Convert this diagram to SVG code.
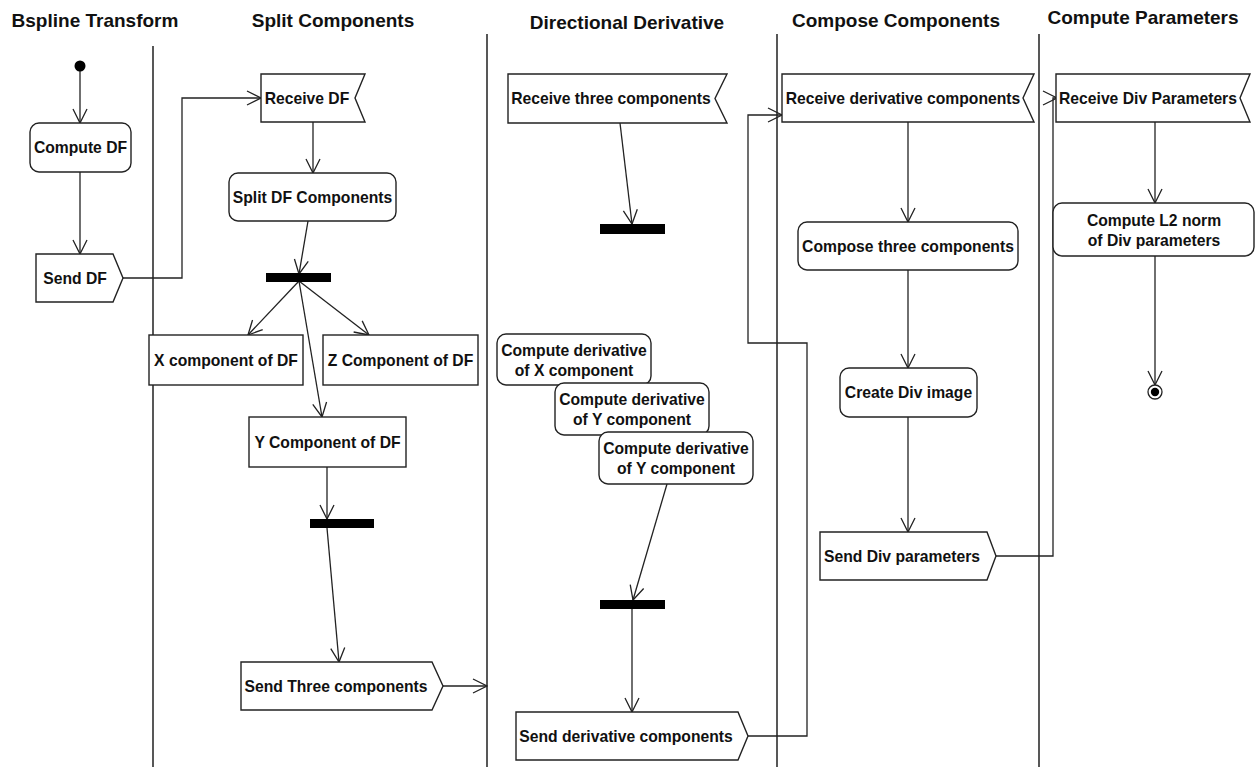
<svg xmlns="http://www.w3.org/2000/svg" width="1255" height="767" viewBox="0 0 1255 767">
  <style>
    .lane { stroke: #111; stroke-width: 1.4; fill: none; }
    .title { font-family: "Liberation Sans", Arial, sans-serif; font-weight: bold; font-size: 19px; fill: #111; text-anchor: middle; }
    .box { fill: #fff; stroke: #222; stroke-width: 1.4; }
    .lbl { font-family: "Liberation Sans", Arial, sans-serif; font-weight: bold; font-size: 15.7px; fill: #111; text-anchor: middle; }
    .edge { fill: none; stroke: #222; stroke-width: 1.3; marker-end: url(#open); }
    .plain { fill: none; stroke: #222; stroke-width: 1.3; }
    .bar { fill: #000; }
  </style>
  <defs>
    <marker id="open" viewBox="0 0 16 16" refX="15" refY="8" markerWidth="16" markerHeight="16" markerUnits="userSpaceOnUse" orient="auto">
      <path d="M1,1 L15,8 L1,15" fill="none" stroke="#222" stroke-width="1.3"/>
    </marker>
  </defs>
  <rect width="1255" height="767" fill="#fff"/>

  <!-- swimlane titles and separators -->
  <g id="lanes">
    <text class="title" x="95" y="27">Bspline Transform</text>
    <text class="title" x="333" y="27">Split Components</text>
    <text class="title" x="627" y="29">Directional Derivative</text>
    <text class="title" x="896" y="27">Compose Components</text>
    <text class="title" x="1143" y="24">Compute Parameters</text>
    <line class="lane" x1="153" y1="46" x2="153" y2="767"/>
    <line class="lane" x1="487" y1="34" x2="487" y2="767"/>
    <line class="lane" x1="777" y1="34" x2="777" y2="767"/>
    <line class="lane" x1="1039" y1="34" x2="1039" y2="767"/>
  </g>

  <!-- connectors -->
  <g id="connectors">
    <line class="edge" x1="80" y1="66" x2="80" y2="123"/>
    <line class="edge" x1="80" y1="172" x2="80" y2="254"/>
    <polyline class="edge" points="123,278 182,278 182,98 261,98"/>
    <line class="edge" x1="313" y1="122" x2="313" y2="173"/>
    <line class="edge" x1="308" y1="221" x2="299" y2="274"/>
    <line class="edge" x1="299" y1="281" x2="248" y2="335"/>
    <line class="edge" x1="299" y1="281" x2="369" y2="335"/>
    <line class="edge" x1="299" y1="281" x2="322" y2="417"/>
    <line class="edge" x1="327" y1="467" x2="327" y2="519"/>
    <line class="edge" x1="327" y1="528" x2="339" y2="662"/>
    <line class="edge" x1="443" y1="686" x2="487" y2="686"/>
    <line class="edge" x1="620" y1="123" x2="632" y2="224"/>
    <line class="edge" x1="667" y1="484" x2="633" y2="600"/>
    <line class="edge" x1="632" y1="609" x2="632" y2="712"/>
    <polyline class="edge" points="748,736 807,736 807,343 748,343 748,115 782,115"/>
    <line class="edge" x1="908" y1="122" x2="908" y2="222"/>
    <line class="edge" x1="908" y1="270" x2="908" y2="368"/>
    <line class="edge" x1="908" y1="417" x2="908" y2="532"/>
    <polyline class="edge" points="996,556 1053,556 1053,98 1057,98"/>
    <line class="edge" x1="1155" y1="122" x2="1155" y2="203"/>
    <line class="edge" x1="1155" y1="256" x2="1155" y2="385"/>
  </g>

  <!-- Bspline Transform -->
  <g id="start"><circle cx="80" cy="66" r="5.5" fill="#000"/></g>
  <g id="compute-df">
    <rect class="box" x="30" y="123" width="101" height="49" rx="9"/>
    <text class="lbl" x="80.5" y="153">Compute DF</text>
  </g>
  <g id="send-df">
    <path class="box" d="M36,254 L113,254 L123,278 L113,302 L36,302 Z"/>
    <text class="lbl" x="75" y="284">Send DF</text>
  </g>

  <!-- Split Components -->
  <g id="receive-df">
    <path class="box" d="M261,74 L365,74 L355,98 L365,122 L261,122 Z"/>
    <text class="lbl" x="307" y="104">Receive DF</text>
  </g>
  <g id="split-df">
    <rect class="box" x="229" y="173" width="167" height="48" rx="9"/>
    <text class="lbl" x="312.5" y="203">Split DF Components</text>
  </g>
  <g id="fork-split"><rect class="bar" x="266" y="273" width="65" height="9"/></g>
  <g id="x-component">
    <rect class="box" x="149" y="335" width="154" height="50"/>
    <text class="lbl" x="226" y="365.5">X component of DF</text>
  </g>
  <g id="z-component">
    <rect class="box" x="323" y="335" width="155" height="50"/>
    <text class="lbl" x="400.5" y="365.5">Z Component of DF</text>
  </g>
  <g id="y-component">
    <rect class="box" x="249" y="417" width="157" height="50"/>
    <text class="lbl" x="327.5" y="447.5">Y Component of DF</text>
  </g>
  <g id="join-split"><rect class="bar" x="310" y="519" width="64" height="9"/></g>
  <g id="send-three">
    <path class="box" d="M241,662 L432,662 L443,686 L432,710 L241,710 Z"/>
    <text class="lbl" x="336" y="692">Send Three components</text>
  </g>

  <!-- Directional Derivative -->
  <g id="receive-three">
    <path class="box" d="M508,74 L727,74 L715,98.5 L727,123 L508,123 Z"/>
    <text class="lbl" x="611" y="104">Receive three components</text>
  </g>
  <g id="fork-derivative"><rect class="bar" x="600" y="224" width="65" height="10"/></g>
  <g id="deriv-x">
    <rect class="box" x="497" y="334" width="154" height="51" rx="9"/>
    <text class="lbl" x="574" y="355.5">Compute derivative</text>
    <text class="lbl" x="574" y="375.5">of X component</text>
  </g>
  <g id="deriv-y">
    <rect class="box" x="555" y="383" width="154" height="52" rx="9"/>
    <text class="lbl" x="632" y="404.5">Compute derivative</text>
    <text class="lbl" x="632" y="424.5">of Y component</text>
  </g>
  <g id="deriv-z">
    <rect class="box" x="599" y="432" width="154" height="52" rx="9"/>
    <text class="lbl" x="676" y="453.5">Compute derivative</text>
    <text class="lbl" x="676" y="473.5">of Y component</text>
  </g>
  <g id="join-derivative"><rect class="bar" x="600" y="600" width="65" height="9"/></g>
  <g id="send-derivative">
    <path class="box" d="M516,712 L738,712 L748,736 L738,760 L516,760 Z"/>
    <text class="lbl" x="626" y="742">Send derivative components</text>
  </g>

  <!-- Compose Components -->
  <g id="receive-derivative">
    <path class="box" d="M782,74 L1034,74 L1023,98 L1034,122 L782,122 Z"/>
    <text class="lbl" x="903" y="104">Receive derivative components</text>
  </g>
  <g id="compose">
    <rect class="box" x="798" y="222" width="220" height="48" rx="9"/>
    <text class="lbl" x="908" y="251.5">Compose three components</text>
  </g>
  <g id="create-div">
    <rect class="box" x="840" y="368" width="137" height="49" rx="9"/>
    <text class="lbl" x="908.5" y="398">Create Div image</text>
  </g>
  <g id="send-div">
    <path class="box" d="M820,532 L987,532 L996,556 L987,580 L820,580 Z"/>
    <text class="lbl" x="902" y="562">Send Div parameters</text>
  </g>

  <!-- Compute Parameters -->
  <g id="receive-div">
    <path class="box" d="M1056,74 L1250,74 L1240,98 L1250,122 L1056,122 Z"/>
    <text class="lbl" x="1148" y="104">Receive Div Parameters</text>
  </g>
  <g id="compute-l2">
    <rect class="box" x="1053" y="203" width="201" height="53" rx="9"/>
    <text class="lbl" x="1154" y="225.5">Compute L2 norm</text>
    <text class="lbl" x="1154" y="245.5">of Div parameters</text>
  </g>
  <g id="final">
    <circle cx="1155" cy="392" r="7" fill="#fff" stroke="#222" stroke-width="1.3"/>
    <circle cx="1155" cy="392" r="4.2" fill="#000"/>
  </g>
</svg>
